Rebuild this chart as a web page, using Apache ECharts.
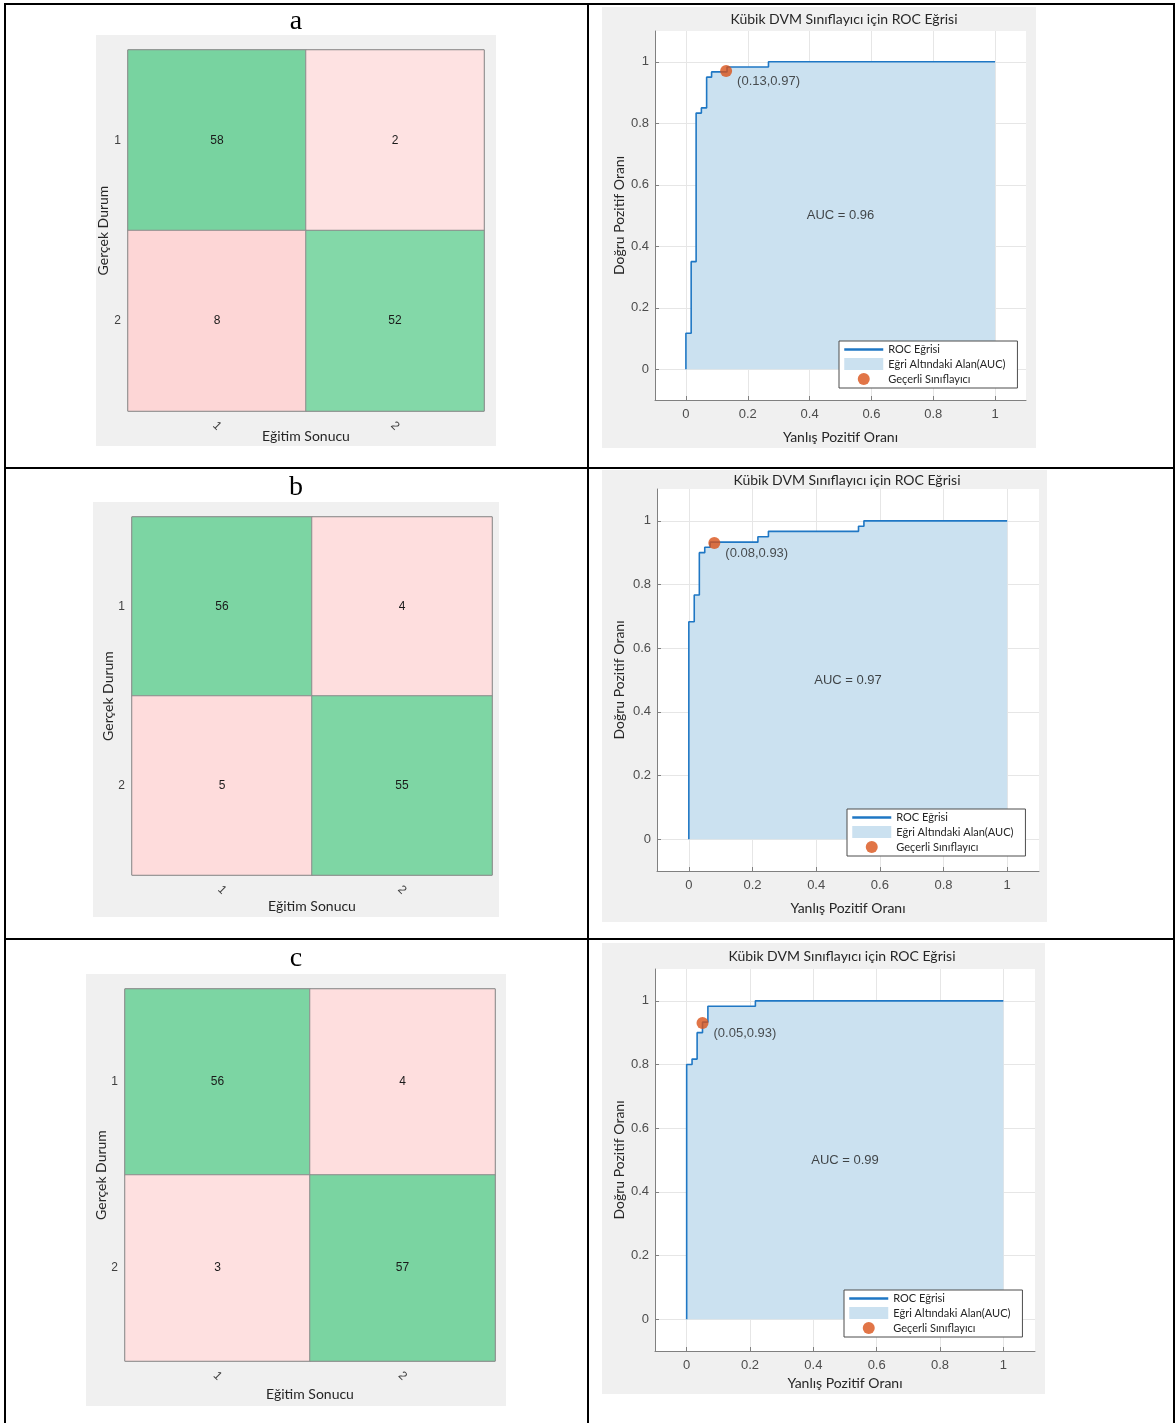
<!DOCTYPE html>
<html>
<head>
<meta charset="utf-8">
<script src="https://cdn.jsdelivr.net/npm/echarts@6/dist/echarts.min.js"></script>
<style>
html,body{margin:0;padding:0;background:#ffffff;}
#chart{width:1176px;height:1423px;}
</style>
</head>
<body>
<div id="chart"></div>
<script>
// ---------------- DATA ----------------
const panelLabels = ['a', 'b', 'c'];
const classLabels = ['1', '2'];
const cmXName = 'Eğitim Sonucu';
const cmYName = 'Gerçek Durum';
// rows = actual class (Gerçek Durum), cols = predicted (Eğitim Sonucu)
const confA = [[58, 2], [8, 52]];
const confB = [[56, 4], [5, 55]];
const confC = [[56, 4], [3, 57]];

const rocTitle = 'Kübik DVM Sınıflayıcı için ROC Eğrisi';
const rocXName = 'Yanlış Pozitif Oranı';
const rocYName = 'Doğru Pozitif Oranı';
const rocTicks = [0, 0.2, 0.4, 0.6, 0.8, 1];
const legendNames = ['ROC Eğrisi', 'Eğri Altındaki Alan(AUC)', 'Geçerli Sınıflayıcı'];

// ROC curves: [FPR, TPR]
const rocA = [[0,0],[0,0.117],[0.017,0.117],[0.017,0.35],[0.033,0.35],[0.033,0.833],[0.05,0.833],[0.05,0.85],[0.067,0.85],[0.067,0.95],[0.083,0.95],[0.083,0.967],[0.133,0.967],[0.133,0.983],[0.267,0.983],[0.267,1],[1,1]];
const rocB = [[0,0],[0,0.683],[0.017,0.683],[0.017,0.767],[0.033,0.767],[0.033,0.9],[0.05,0.9],[0.05,0.917],[0.067,0.917],[0.067,0.933],[0.217,0.933],[0.217,0.95],[0.25,0.95],[0.25,0.967],[0.533,0.967],[0.533,0.983],[0.55,0.983],[0.55,1],[1,1]];
const rocC = [[0,0],[0,0.8],[0.017,0.8],[0.017,0.817],[0.033,0.817],[0.033,0.9],[0.05,0.9],[0.05,0.933],[0.067,0.933],[0.067,0.983],[0.217,0.983],[0.217,1],[1,1]];

// operating points (Geçerli Sınıflayıcı)
const opA = [0.13, 0.97];
const opB = [0.08, 0.93];
const opC = [0.05, 0.93];
const aucValues = [0.96, 0.97, 0.99];
const aucPos = [0.5, 0.5];

// ---------------- LAYOUT / STYLE ----------------
const confs = [confA, confB, confC];
const rocs = [rocA, rocB, rocC];
const ops = [opA, opB, opC];

const layout = [
  {label:{x:296, top:8}, cmBg:[96,35,400,411], cmGrid:[128,50,356,361], cmXGap:18, cmYGap:18,
   rocBg:[602,7,434,441], rocGrid:[655,31,371,369], rocTitle:{x:844, top:12}, rocXGap:30, rocYGap:29, legend:[839,341]},
  {label:{x:296, top:474}, cmBg:[93,502,406,415], cmGrid:[132,517,360,358], cmXGap:24, cmYGap:17,
   rocBg:[602,470,445,452], rocGrid:[657,489,382,382], rocTitle:{x:847, top:473}, rocXGap:30, rocYGap:31, legend:[847,809]},
  {label:{x:296, top:945}, cmBg:[86,974,420,432], cmGrid:[125,989,370,372], cmXGap:26, cmYGap:17,
   rocBg:[602,943,443,451], rocGrid:[655,969,380,382], rocTitle:{x:842, top:949}, rocXGap:25, rocYGap:29, legend:[844,1290]}
];

const SANS = 'Lato, "Open Sans", sans-serif';
const ARIAL = '"Liberation Sans", Arial, sans-serif';
const SERIF = '"Liberation Serif", "Times New Roman", serif';
const BLUE = '#1f77c4';
const FILL = '#cbe1f0';
const ORANGE = '#d95319';

function cmData(m) {
  const d = [];
  m.forEach((row, r) => row.forEach((v, c) => d.push([c, r, v])));
  return d;
}

const grid = [], xAxis = [], yAxis = [], series = [], title = [], legend = [], graphic = [];
const heatIdx = [];

layout.forEach((L, i) => {
  const gi = 2 * i, gr = 2 * i + 1;
  graphic.push({type:'rect', z:-5, silent:true, shape:{x:L.cmBg[0], y:L.cmBg[1], width:L.cmBg[2], height:L.cmBg[3]}, style:{fill:'#f0f0f0'}});
  graphic.push({type:'rect', z:-5, silent:true, shape:{x:L.rocBg[0], y:L.rocBg[1], width:L.rocBg[2], height:L.rocBg[3]}, style:{fill:'#f0f0f0'}});

  title.push({text: panelLabels[i], left: L.label.x, top: L.label.top, textAlign:'center', padding:0,
    textStyle:{fontFamily:SERIF, fontSize:28, fontWeight:'normal', color:'#000'}});
  title.push({text: rocTitle, left: L.rocTitle.x, top: L.rocTitle.top, textAlign:'center', padding:0,
    textStyle:{fontFamily:SANS, fontSize:14, fontWeight:'normal', color:'#262626'}});

  // confusion grid
  grid.push({left:L.cmGrid[0], top:L.cmGrid[1], width:L.cmGrid[2], height:L.cmGrid[3], show:true,
    borderColor:'#808080', borderWidth:1, backgroundColor:'transparent', containLabel:false});
  xAxis.push({gridIndex:gi, type:'category', data:classLabels, name:cmXName, nameLocation:'middle', nameGap:L.cmXGap,
    nameMoveOverlap:false,
    nameTextStyle:{fontFamily:SANS, fontSize:14, color:'#262626'},
    axisLine:{show:false}, axisTick:{show:false}, splitLine:{show:false},
    axisLabel:{rotate:-45, align:'center', verticalAlign:'middle', margin:15, fontFamily:ARIAL, fontSize:12, color:'#404040'}});
  yAxis.push({gridIndex:gi, type:'category', data:classLabels, inverse:true, name:cmYName, nameLocation:'middle', nameGap:L.cmYGap,
    nameMoveOverlap:false,
    nameRotate:90, nameTextStyle:{fontFamily:SANS, fontSize:14, color:'#262626'},
    axisLine:{show:false}, axisTick:{show:false}, splitLine:{show:false},
    axisLabel:{margin:7, fontFamily:ARIAL, fontSize:12, color:'#404040'}});

  // roc grid
  grid.push({left:L.rocGrid[0], top:L.rocGrid[1], width:L.rocGrid[2], height:L.rocGrid[3], show:true,
    backgroundColor:'#ffffff', borderWidth:0, containLabel:false});
  xAxis.push({gridIndex:gr, type:'value', min:-0.1, max:1.1, name:rocXName, nameLocation:'middle', nameGap:L.rocXGap,
    nameMoveOverlap:false,
    nameTextStyle:{fontFamily:SANS, fontSize:14, color:'#262626'},
    axisLine:{onZero:false, lineStyle:{color:'#808080', width:1}},
    axisTick:{inside:true, length:4, customValues:rocTicks, lineStyle:{color:'#808080'}},
    axisLabel:{customValues:rocTicks, margin:8, fontFamily:ARIAL, fontSize:13, color:'#4d4d4d'},
    splitLine:{show:true, lineStyle:{color:'#e6e6e6', width:1}}});
  yAxis.push({gridIndex:gr, type:'value', min:-0.1, max:1.1, name:rocYName, nameLocation:'middle', nameGap:L.rocYGap,
    nameMoveOverlap:false,
    nameRotate:90, nameTextStyle:{fontFamily:SANS, fontSize:14, color:'#262626'},
    axisLine:{onZero:false, lineStyle:{color:'#808080', width:1}},
    axisTick:{inside:true, length:4, customValues:rocTicks, lineStyle:{color:'#808080'}},
    axisLabel:{customValues:rocTicks, margin:6, fontFamily:ARIAL, fontSize:13, color:'#4d4d4d'},
    splitLine:{show:true, lineStyle:{color:'#e6e6e6', width:1}}});

  heatIdx.push(series.length);
  series.push({type:'heatmap', xAxisIndex:gi, yAxisIndex:gi, data:cmData(confs[i]),
    itemStyle:{borderColor:'#8c8c8c', borderWidth:1},
    label:{show:true, fontFamily:ARIAL, fontSize:12, color:'#1a1a1a'},
    emphasis:{disabled:true}, silent:true});

  series.push({type:'line', name:legendNames[1], xAxisIndex:gr, yAxisIndex:gr, data:rocs[i],
    symbol:'none', lineStyle:{width:0}, itemStyle:{color:FILL},
    areaStyle:{color:FILL, opacity:1, origin:0}, silent:true, z:2});
  series.push({type:'line', name:legendNames[0], xAxisIndex:gr, yAxisIndex:gr, data:rocs[i],
    symbol:'none', lineStyle:{width:1.6, color:BLUE}, itemStyle:{color:BLUE}, silent:true, z:3});
  series.push({type:'scatter', name:legendNames[2], xAxisIndex:gr, yAxisIndex:gr, data:[ops[i]],
    symbol:'circle', symbolSize:12, itemStyle:{color:ORANGE}, silent:true, z:4,
    label:{show:true, position:'right', distance:5, offset:[0,10], fontFamily:ARIAL, fontSize:13, color:'#262626',
      formatter: p => '(' + p.value[0].toFixed(2) + ',' + p.value[1].toFixed(2) + ')'}});
  series.push({type:'scatter', name:'AUC', xAxisIndex:gr, yAxisIndex:gr, data:[[aucPos[0], aucPos[1], aucValues[i]]],
    symbol:'circle', symbolSize:1, itemStyle:{color:'transparent'}, silent:true, z:4,
    label:{show:true, position:'inside', fontFamily:ARIAL, fontSize:13, color:'#1a1a1a',
      formatter: p => 'AUC = ' + p.value[2].toFixed(2)}});

  legend.push({orient:'vertical', left:L.legend[0], top:L.legend[1], padding:[3,12,3,4], itemGap:3,
    itemWidth:39, itemHeight:12, backgroundColor:'#ffffff', borderColor:'#4d4d4d', borderWidth:1, borderRadius:0,
    selectedMode:false, textStyle:{fontFamily:SANS, fontSize:11, color:'#262626'},
    data:[
      {name:legendNames[0], itemStyle:{color:'transparent', borderWidth:0}, lineStyle:{width:2.5, color:BLUE}},
      {name:legendNames[1], icon:'rect', itemStyle:{color:FILL, borderWidth:0}},
      {name:legendNames[2], icon:'circle', itemStyle:{color:ORANGE, borderWidth:0}}
    ]});
});

const lineStyle = {stroke:'#000', lineWidth:2};
[5, 588, 1174].forEach(x => graphic.push({type:'line', z:100, silent:true, shape:{x1:x, y1:3, x2:x, y2:1423}, style:lineStyle}));
[4, 468, 939].forEach(y => graphic.push({type:'line', z:100, silent:true, shape:{x1:4, y1:y, x2:1175, y2:y}, style:lineStyle}));

const option = {
  backgroundColor:'#ffffff',
  animation:false,
  title, grid, xAxis, yAxis, legend, series, graphic,
  visualMap:{type:'continuous', show:false, min:0, max:60, seriesIndex:heatIdx, dimension:2,
    inRange:{color:['#ffe6e6','#fcd2d2','#fcd2d2','#b0e3c4','#96ddb4','#87daab','#74d19d']}}
};

const chart = echarts.init(document.getElementById('chart'), null, {renderer:'canvas', width:1176, height:1423});
chart.setOption(option);
</script>
</body>
</html>
